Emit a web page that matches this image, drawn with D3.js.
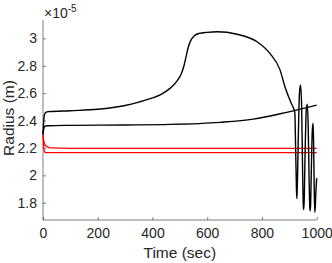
<!DOCTYPE html>
<html>
<head>
<meta charset="utf-8">
<script src="https://cdn.jsdelivr.net/npm/d3@7"></script>
<style>
body { margin: 0; background: #fff; }
svg { display: block; font-family: "Liberation Sans", Arial, sans-serif; }
.axis path, .axis line { stroke: #262626; stroke-width: 0.6; }
.axis text { fill: #262626; font-size: 14px; }
.lbl { fill: #262626; font-size: 15.5px; }
</style>
</head>
<body>
<script>
// radius values in units of 1e-5 m
var timeA = [0, 2, 5, 10, 20, 100, 200, 300, 350, 400, 430, 464, 490, 505, 515, 522, 530, 540, 552, 570, 600, 636, 709, 782, 829, 866, 884, 902, 913, 920,
             923, 926, 927.5, 929, 933, 937, 941, 945, 948, 951, 952.5, 954, 958, 962, 966, 969, 972, 975, 976.5, 978, 981, 984, 987, 989, 991, 993, 994.5, 997, 1000];
var radiusA = [2.30, 2.38, 2.44, 2.46, 2.465, 2.472, 2.482, 2.51, 2.535, 2.565, 2.59, 2.635, 2.69, 2.74, 2.80, 2.86, 2.93, 2.985, 3.018, 3.036, 3.044, 3.048, 3.03, 2.975, 2.89, 2.77, 2.647, 2.55, 2.50, 2.46,
               2.2, 1.9, 1.83, 1.9, 2.3, 2.6, 2.66, 2.5, 2.1, 1.78, 1.75, 1.8, 2.2, 2.48, 2.52, 2.35, 2.0, 1.76, 1.74, 1.8, 2.1, 2.33, 2.38, 2.2, 1.9, 1.73, 1.76, 1.88, 1.98];

var timeB = [0, 3, 8, 20, 100, 300, 464, 647, 768, 890, 1000];
var radiusB = [2.30, 2.34, 2.36, 2.362, 2.365, 2.368, 2.372, 2.387, 2.41, 2.46, 2.513];

var timeR1 = [0, 3, 8, 15, 30, 100, 1000];
var radiusR1 = [2.30, 2.25, 2.22, 2.21, 2.2, 2.197, 2.197];

var timeR2 = [0, 3, 6, 10, 1000];
var radiusR2 = [2.30, 2.2, 2.17, 2.166, 2.166];

var xTicks = [0, 200, 400, 600, 800, 1000];
var yTicks = [1.8, 2, 2.2, 2.4, 2.6, 2.8, 3];

var width = 332, height = 263;
var plotL = 43, plotR = 316.7, plotT = 20, plotB = 220;

var svg = d3.select("body").append("svg")
    .attr("width", width)
    .attr("height", height);

var x = d3.scaleLinear().domain([0, 1000]).range([plotL, plotR]);
var y = d3.scaleLinear().domain([1.674, 3.134]).range([plotB, plotT]);

function pairs(t, r){
    return t.map(function(d, i){ return [d, r[i]]; });
}

var line = d3.line()
    .x(function(d){ return x(d[0]); })
    .y(function(d){ return y(d[1]); })
    .curve(d3.curveMonotoneX);

//axes
svg.append("g")
    .attr("class", "axis")
    .attr("transform", "translate(0," + plotB + ")")
    .call(d3.axisBottom(x).tickValues(xTicks).tickFormat(d3.format("")).tickSize(-3).tickSizeOuter(0).tickPadding(8))
    .call(function(g){ g.select(".domain").attr("d", "M" + plotL + ",0H" + plotR); });

svg.append("g")
    .attr("class", "axis")
    .attr("transform", "translate(" + plotL + ",0)")
    .call(d3.axisLeft(y).tickValues(yTicks).tickFormat(d3.format("")).tickSize(-3).tickSizeOuter(0).tickPadding(6))
    .call(function(g){ g.select(".domain").attr("d", "M0," + plotT + "V" + plotB); });

//lines
svg.append("path").datum(pairs(timeR1, radiusR1))
    .attr("d", line).attr("fill", "none").attr("stroke", "#ff0000").attr("stroke-width", 1.3);
svg.append("path").datum(pairs(timeR2, radiusR2))
    .attr("d", line).attr("fill", "none").attr("stroke", "#ff0000").attr("stroke-width", 1.3);
svg.append("path").datum(pairs(timeB, radiusB))
    .attr("d", line).attr("fill", "none").attr("stroke", "#000").attr("stroke-width", 1.4);
svg.append("path").datum(pairs(timeA, radiusA))
    .attr("d", line).attr("fill", "none").attr("stroke", "#000").attr("stroke-width", 1.4);

//labels
svg.append("text").attr("class", "lbl")
    .attr("x", (plotL + plotR) / 2).attr("y", 258)
    .attr("text-anchor", "middle").text("Time (sec)");

svg.append("text").attr("class", "lbl")
    .attr("transform", "translate(14," + 118 + ") rotate(-90)")
    .attr("text-anchor", "middle").text("Radius (m)");

var mult = svg.append("text").attr("class", "lbl")
    .attr("x", 44).attr("y", 18).style("font-size", "14px");
mult.append("tspan").text("\u00d710");
mult.append("tspan").attr("dy", -6).style("font-size", "10px").text("-5");
</script>
</body>
</html>
